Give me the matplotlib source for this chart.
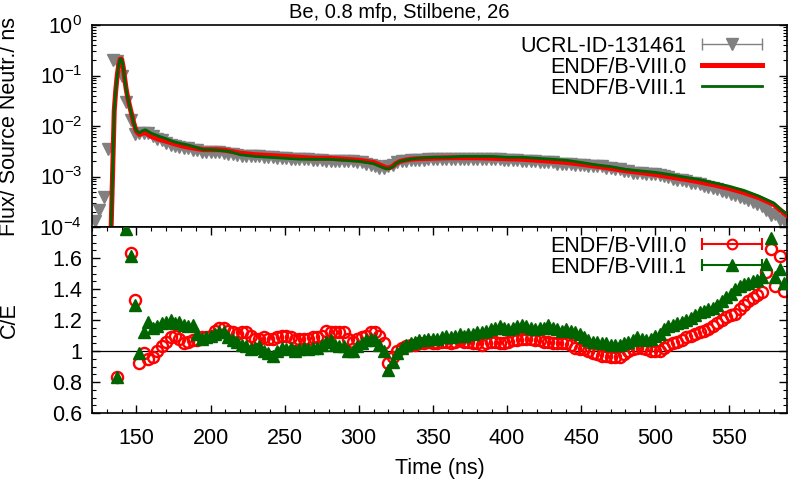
import numpy as np
import matplotlib
matplotlib.use('Agg')
import matplotlib.pyplot as plt
from matplotlib.lines import Line2D
from matplotlib.legend_handler import HandlerLine2D, HandlerTuple
from matplotlib.ticker import MultipleLocator, LogLocator, FuncFormatter, NullFormatter, LogFormatterSciNotation

plt.rcParams['font.family'] = ['Liberation Sans', 'DejaVu Sans']
plt.rcParams['mathtext.fontset'] = 'custom'
plt.rcParams['mathtext.rm'] = 'Liberation Sans'
plt.rcParams['mathtext.default'] = 'regular'

title = "Be, 0.8 mfp, Stilbene, 26"
label_exp = "UCRL-ID-131461"
label_v80 = "ENDF/B-VIII.0"
label_v81 = "ENDF/B-VIII.1"
xlabel = "Time (ns)"
ylabel_top = "Flux/ Source Neutr./ ns"
ylabel_bot = "C/E"

nan = np.nan
# experimental time bins (ns)
t_exp = np.arange(122, 590, 3)
exp_flux = [
    1.3e-4, 2.2e-4, 4.0e-4, 3.5e-3, 0.20, 0.19, 0.10, 0.030, 0.0129, 0.0071,
    0.0074, 0.0074, 0.0072, 0.0063, 0.0056, 0.0052, 0.0047, 0.0043, 0.0040, 0.0038,
    0.0037, 0.0036, 0.0034, 0.0033, 0.0031, 0.0031, 0.0031, 0.0030, 0.0030, 0.0029,
    0.0028, 0.0028, 0.0027, 0.0026, 0.0025, 0.0025, 0.0025, 0.0025, 0.0024, 0.0024,
    0.0024, 0.0023, 0.0023, 0.0023, 0.0022, 0.0022, 0.0022, 0.0022, 0.0022, 0.0021,
    0.0021, 0.0021, 0.0020, 0.0020, 0.0020, 0.0020, 0.0020, 0.0020, 0.0020, 0.0019,
    0.0019, 0.0018, 0.0017, 0.0016, 0.0015, 0.0015, 0.0016, 0.0017, 0.0019, 0.0020,
    0.0020, 0.0021, 0.0021, 0.0021, 0.0021, 0.0022, 0.0022, 0.0022, 0.0022, 0.0022,
    0.0022, 0.0022, 0.0022, 0.0022, 0.0022, 0.0022, 0.0022, 0.0022, 0.0022, 0.0022,
    0.0022, 0.0022, 0.0021, 0.0021, 0.0021, 0.0021, 0.0020, 0.0020, 0.0020, 0.0020,
    0.0019, 0.0019, 0.0019, 0.0019, 0.0018, 0.0018, 0.0018, 0.0018, 0.0017, 0.0017,
    0.0017, 0.0016, 0.0016, 0.0016, 0.0016, 0.0015, 0.0015, 0.0014, 0.0014, 0.0013,
    0.0013, 0.0012, 0.0012, 0.0012, 0.0011, 0.0011, 0.0011, 0.00107, 0.00102, 0.00096,
    0.00090, 0.00087, 0.00084, 0.00080, 0.00076, 0.00073, 0.00070, 0.00066, 0.00063, 0.00059,
    0.00056, 0.00052, 0.00049, 0.00046, 0.00044, 0.00040, 0.00037, 0.00034, 0.00031, 0.00029,
    0.00026, 0.00022, 0.00017, 0.00018, 0.00014, 0.00014,
]
ce_v80 = [
    nan, nan, nan, nan, nan, 0.83, 2.1, 1.86, 1.63, 1.33,
    0.92, 0.99, 0.95, 0.96, 1.00, 1.03, 1.06, 1.09, 1.10, 1.08,
    1.05, 1.06, 1.07, 1.07, 1.09, 1.09, 1.10, 1.13, 1.15, 1.15,
    1.13, 1.12, 1.11, 1.12, 1.12, 1.10, 1.08, 1.08, 1.09, 1.08,
    1.08, 1.09, 1.10, 1.10, 1.09, 1.07, 1.08, 1.08, 1.08, 1.09,
    1.09, 1.10, 1.13, 1.12, 1.12, 1.12, 1.12, 1.08, 1.06, 1.08,
    1.09, 1.10, 1.12, 1.12, 1.10, 1.05, 0.92, 0.96, 1.00, 1.02,
    1.03, 1.04, 1.04, 1.05, 1.05, 1.06, 1.05, 1.05, 1.06, 1.06,
    1.05, 1.06, 1.07, 1.06, 1.06, 1.05, 1.05, 1.04, 1.05, 1.06,
    1.06, 1.05, 1.05, 1.06, 1.07, 1.07, 1.08, 1.08, 1.08, 1.07,
    1.07, 1.06, 1.06, 1.05, 1.05, 1.05, 1.05, 1.04, 1.02, 1.01,
    1.01, 1.00, 0.99, 0.98, 0.97, 0.97, 0.96, 0.96, 0.96, 0.98,
    1.00, 1.01, 1.02, 1.02, 1.01, 1.00, 1.00, 1.00, 1.02, 1.04,
    1.05, 1.06, 1.07, 1.09, 1.10, 1.11, 1.12, 1.13, 1.14, 1.16,
    1.18, 1.20, 1.22, 1.23, 1.24, 1.27, 1.30, 1.32, 1.34, 1.36,
    1.38, 1.51, 1.66, 1.42, 1.61, 1.39,
]
ce_v81 = [
    nan, nan, nan, nan, nan, 0.83, 2.1, 1.79, 1.61, 1.30,
    0.99, 1.12, 1.19, 1.15, 1.16, 1.18, 1.19, 1.20, 1.18, 1.19,
    1.17, 1.16, 1.17, 1.11, 1.08, 1.09, 1.10, 1.11, 1.12, 1.12,
    1.09, 1.07, 1.06, 1.04, 1.03, 1.01, 1.02, 1.03, 1.00, 0.99,
    0.97, 1.00, 1.02, 1.01, 1.02, 1.00, 1.01, 1.02, 1.01, 1.02,
    1.02, 1.04, 1.06, 1.07, 1.04, 1.03, 1.03, 1.00, 1.00, 1.03,
    1.05, 1.07, 1.08, 1.07, 1.04, 1.00, 0.88, 0.93, 0.99, 1.02,
    1.04, 1.05, 1.06, 1.07, 1.07, 1.08, 1.08, 1.08, 1.09, 1.10,
    1.09, 1.10, 1.11, 1.10, 1.11, 1.11, 1.12, 1.12, 1.13, 1.14,
    1.15, 1.16, 1.15, 1.14, 1.15, 1.16, 1.17, 1.16, 1.15, 1.14,
    1.15, 1.15, 1.17, 1.15, 1.14, 1.13, 1.14, 1.13, 1.12, 1.11,
    1.09, 1.07, 1.06, 1.06, 1.05, 1.05, 1.04, 1.04, 1.04, 1.05,
    1.06, 1.07, 1.09, 1.08, 1.07, 1.08, 1.10, 1.11, 1.14, 1.16,
    1.17, 1.18, 1.19, 1.20, 1.21, 1.23, 1.25, 1.26, 1.27, 1.28,
    1.30, 1.32, 1.35, 1.37, 1.40, 1.42, 1.43, 1.44, 1.45, 1.46,
    1.48, 1.56, 1.73, 1.48, 1.53, 1.44,
]

# calculated curves (ns, flux)
t_calc = [128, 130, 132, 133, 134, 135, 136, 137, 138, 139,
          140, 141, 142, 143, 144, 145, 146, 147, 148, 149,
          150, 152, 154, 156, 158, 160, 165, 170, 175, 180,
          185, 190, 195, 200, 205, 210, 215, 220, 230, 240,
          250, 260, 270, 280, 290, 300, 305, 310, 314, 317,
          319, 321, 323, 325, 328, 331, 335, 340, 350, 360,
          370, 380, 390, 400, 410, 420, 430, 440, 450, 460,
          470, 480, 490, 500, 510, 520, 530, 540, 550, 560,
          570, 580, 585, 590]
calc_v80 = [1e-7, 1e-6, 2e-5, 1.2e-4, 1.5e-3, 0.02, 0.05, 0.10, 0.16, 0.21,
            0.21, 0.15, 0.09, 0.055, 0.038, 0.028, 0.021, 0.016, 0.012, 0.0095,
            0.0078, 0.0068, 0.0072, 0.0074, 0.0068, 0.0062, 0.0055, 0.0050, 0.0045, 0.0041,
            0.0038, 0.0036, 0.0034, 0.0034, 0.0034, 0.0033, 0.0031, 0.0029, 0.0027, 0.0026,
            0.0025, 0.0024, 0.0023, 0.0023, 0.0022, 0.0021, 0.0020, 0.0019, 0.0017, 0.00155,
            0.00148, 0.00150, 0.0016, 0.0018, 0.0020, 0.0021, 0.0022, 0.00225, 0.0023, 0.00235,
            0.00235, 0.00235, 0.0023, 0.00225, 0.0022, 0.0021, 0.0020, 0.0019, 0.00175, 0.0016,
            0.00145, 0.0013, 0.0012, 0.0011, 0.00098, 0.00088, 0.00078, 0.00068, 0.00058, 0.00048,
            0.00038, 0.00028, 0.00021, 0.00016]
calc_v81 = [1e-7, 1e-6, 2e-5, 1.2e-4, 1.5e-3, 0.02, 0.05, 0.10, 0.16, 0.21,
            0.21, 0.15, 0.088, 0.054, 0.037, 0.028, 0.021, 0.016, 0.012, 0.0095,
            0.0080, 0.0073, 0.0080, 0.0084, 0.0078, 0.0072, 0.0063, 0.0056, 0.0049, 0.0045,
            0.0042, 0.0038, 0.0034, 0.0034, 0.0033, 0.0032, 0.0030, 0.0027, 0.0025, 0.0024,
            0.0023, 0.0022, 0.0022, 0.0022, 0.0021, 0.0020, 0.0019, 0.0018, 0.0016, 0.00148,
            0.00142, 0.00145, 0.00156, 0.0018, 0.0020, 0.0021, 0.0022, 0.0023, 0.0024, 0.0024,
            0.0025, 0.0025, 0.0025, 0.0024, 0.0024, 0.0023, 0.0022, 0.0021, 0.0019, 0.0017,
            0.00157, 0.00139, 0.00129, 0.00121, 0.00109, 0.00097, 0.00087, 0.00075, 0.00064, 0.00053,
            0.00041, 0.00030, 0.00022, 0.00017]

xlim = (120, 589)
ylim_top = (1e-4, 1.0)
ylim_bot = (0.6, 1.8)

GRAY = '#808080'
RED = '#ff0000'
GREEN = '#006400'
FS = 15.5

W, H = 798, 487
fig = plt.figure(figsize=(W / 100, H / 100), dpi=100)
L, R = 92, 787
ax1 = fig.add_axes([L / W, 1 - 227 / H, (R - L) / W, (227 - 25) / H])
ax2 = fig.add_axes([L / W, 1 - 413 / H, (R - L) / W, (413 - 227) / H])

# top panel
ax1.plot(t_exp, exp_flux, ls='none', marker='v', ms=9, color=GRAY, zorder=2)
ax1.plot(t_calc, calc_v80, color=RED, lw=3.6, zorder=3)
ax1.plot(t_calc, calc_v81, color=GREEN, lw=2.0, zorder=4)
ax1.set_yscale('log')
ax1.set_xlim(*xlim)
ax1.set_ylim(*ylim_top)
ax1.yaxis.set_major_locator(LogLocator(base=10, numticks=10))
ax1.yaxis.set_minor_locator(LogLocator(base=10, subs=np.arange(2, 10), numticks=10))
ax1.yaxis.set_minor_formatter(NullFormatter())
ax1.yaxis.set_major_formatter(LogFormatterSciNotation())
ax1.tick_params(axis='x', which='both', bottom=False, top=False, labelbottom=False)
ax1.tick_params(axis='y', which='both', direction='in', left=True, right=True, labelsize=FS, pad=7)
ax1.tick_params(axis='y', which='major', length=6, width=1)
ax1.tick_params(axis='y', which='minor', length=3, width=0.8)
ax1.set_ylabel(ylabel_top, fontsize=FS)

# bottom panel
ax2.axhline(1.0, color='black', lw=0.9, zorder=1)
ax2.plot(t_exp, ce_v80, ls='none', marker='o', ms=8, mfc='none', mec=RED, mew=1.7, zorder=2)
ax2.plot(t_exp, ce_v81, ls='none', marker='^', ms=8.5, color=GREEN, zorder=3)
ax2.set_xlim(*xlim)
ax2.set_ylim(*ylim_bot)
ax2.xaxis.set_major_locator(MultipleLocator(50))
ax2.xaxis.set_minor_locator(MultipleLocator(10))
ax2.yaxis.set_major_locator(MultipleLocator(0.2))
ax2.yaxis.set_minor_locator(MultipleLocator(0.05))
ax2.yaxis.set_major_formatter(FuncFormatter(lambda v, p: '' if v > 1.7 else '%g' % round(v, 2)))
ax2.tick_params(which='both', direction='in', top=True, right=True, labelsize=FS)
ax2.tick_params(which='major', length=6, width=1)
ax2.tick_params(which='minor', length=3, width=0.8)
ax2.tick_params(axis='y', pad=7)
ax2.tick_params(axis='x', pad=10.5)
ax2.set_xlabel(xlabel, fontsize=FS)
ax2.set_ylabel(ylabel_bot, fontsize=FS)

for ax in (ax1, ax2):
    for s in ax.spines.values():
        s.set_linewidth(1.2)

fig.text(0.5, 1 - 12 / H, title, ha='center', va='center', fontsize=14.5)

# align labels
ax1.yaxis.set_label_coords(-(L - 20) / (R - L), 0.5)
ax2.yaxis.set_label_coords(-(L - 20) / (R - L), 0.5)
ax2.xaxis.set_label_coords(0.5, -(458 - 413) / (413 - 227))

# legends
caps_g = Line2D([], [], color=GRAY, lw=1.0, marker='|', ms=8, mew=1.0)
mark_g = Line2D([], [], ls='none', marker='v', ms=9, color=GRAY)
line_r = Line2D([], [], color=RED, lw=3.6)
line_gr = Line2D([], [], color=GREEN, lw=2.0)
hm1 = {caps_g: HandlerLine2D(numpoints=2, marker_pad=0),
       mark_g: HandlerLine2D(numpoints=1),
       tuple: HandlerTuple(ndivide=1)}
leg1 = ax1.legend([(caps_g, mark_g), line_r, line_gr], [label_exp, label_v80, label_v81],
                  handler_map=hm1, loc='upper right', bbox_to_anchor=(762 / W, 1 - 36 / H),
                  bbox_transform=fig.transFigure, frameon=False, fontsize=FS,
                  markerfirst=False, handlelength=2.8, handletextpad=0.7,
                  labelspacing=0.0, borderpad=0, borderaxespad=0)

caps_r = Line2D([], [], color=RED, lw=1.5, marker='|', ms=9, mew=1.5)
mark_r = Line2D([], [], ls='none', marker='o', ms=7, mfc='none', mec=RED, mew=1.5)
caps_gg = Line2D([], [], color=GREEN, lw=1.5, marker='|', ms=9, mew=1.5)
mark_gg = Line2D([], [], ls='none', marker='^', ms=8, color=GREEN)
hm2 = {caps_r: HandlerLine2D(numpoints=2, marker_pad=0),
       caps_gg: HandlerLine2D(numpoints=2, marker_pad=0),
       mark_r: HandlerLine2D(numpoints=1),
       mark_gg: HandlerLine2D(numpoints=1),
       tuple: HandlerTuple(ndivide=1)}
leg2 = ax2.legend([(caps_r, mark_r), (caps_gg, mark_gg)], [label_v80, label_v81],
                  handler_map=hm2, loc='upper right', bbox_to_anchor=(762 / W, 1 - 236 / H),
                  bbox_transform=fig.transFigure, frameon=False, fontsize=FS,
                  markerfirst=False, handlelength=2.8, handletextpad=0.7,
                  labelspacing=0.0, borderpad=0, borderaxespad=0)

fig.savefig('out.png', dpi=100)
